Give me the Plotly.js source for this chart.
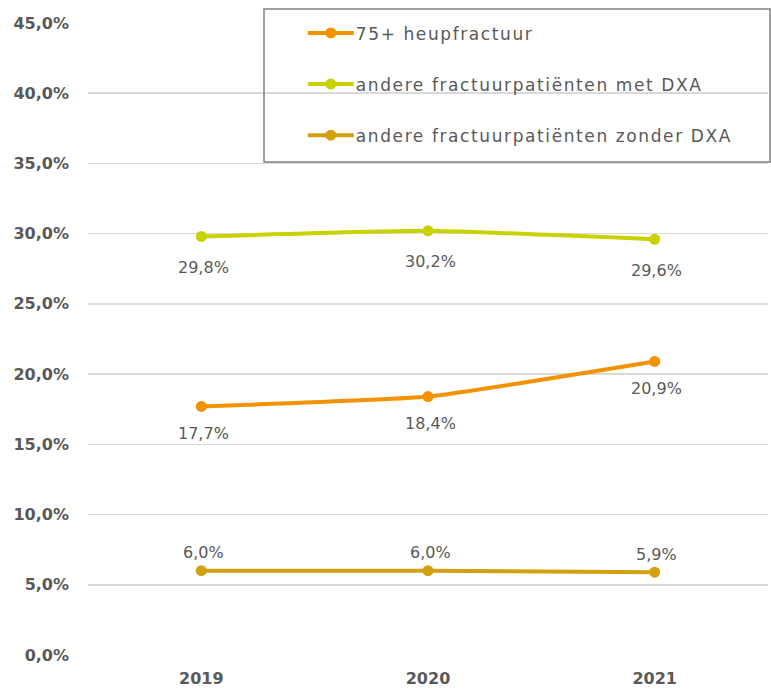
<!DOCTYPE html>
<html>
<head>
<meta charset="utf-8">
<script src="https://cdn.plot.ly/plotly-3.0.1.min.js"></script>
<style>
html,body{margin:0;padding:0;background:#fff;}
#chart{width:771px;height:691px;}
#chart .legendtext{letter-spacing:1.6px;}
</style>
</head>
<body>
<div id="chart"></div>
<script>
const years = ['2019', '2020', '2021'];
const seriesNames = ['75+ heupfractuur', 'andere fractuurpatiënten met DXA', 'andere fractuurpatiënten zonder DXA'];
const heup = [17.7, 18.4, 20.9];
const metDXA = [29.8, 30.2, 29.6];
const zonderDXA = [6.0, 6.0, 5.9];
const yTicks = [0, 5, 10, 15, 20, 25, 30, 35, 40, 45];

const colors = ['#F39200', '#C8D200', '#D4A00F'];
const values = [heup, metDXA, zonderDXA];
const labelShift = [-27, -31, 18];

const fmt = v => v.toFixed(1).replace('.', ',') + '%';

const traces = values.map((v, i) => ({
  x: years, y: v, type: 'scatter', mode: 'lines+markers', name: seriesNames[i],
  legendgroup: 'g' + i,
  line: {color: colors[i], width: 4, shape: 'spline', smoothing: 0.4},
  marker: {color: colors[i], size: 11},
  hoverinfo: 'skip'
}));

const annotations = [];
values.forEach((v, i) => {
  v.forEach((val, j) => {
    annotations.push({
      x: j, y: val, xref: 'x', yref: 'y', text: fmt(val), showarrow: false,
      yshift: labelShift[i], xshift: 2,
      font: {family: 'DejaVu Sans, sans-serif', size: 16, color: '#595959'}
    });
  });
});

const layout = {
  width: 771, height: 691,
  margin: {l: 88, r: 3, t: 23, b: 36},
  paper_bgcolor: '#fff', plot_bgcolor: '#fff',
  showlegend: true,
  legend: {
    x: 0.335, xanchor: 'left', y: 1.012, yanchor: 'top',
    bgcolor: 'rgba(0,0,0,0)', borderwidth: 0,
    traceorder: 'grouped', tracegroupgap: 26,
    font: {family: 'DejaVu Sans, sans-serif', size: 17, color: '#595959'}
  },
  xaxis: {
    type: 'category', range: [-0.5, 2.5], showgrid: false, zeroline: false, showline: false,
    ticks: '', tickfont: {family: 'DejaVu Sans, sans-serif', size: 16, color: '#595959', weight: 'bold'},
    ticklabelstandoff: 12
  },
  yaxis: {
    range: [0, 45], tickvals: yTicks, ticktext: yTicks.map(fmt),
    showgrid: true, gridcolor: '#D9D9D9', gridwidth: 1.5, zeroline: false, showline: false,
    ticks: '', ticklabelstandoff: 18,
    tickfont: {family: 'DejaVu Sans, sans-serif', size: 16, color: '#595959', weight: 'bold'}
  },
  shapes: [{
    type: 'rect', xref: 'paper', yref: 'paper',
    x0: (264 - 88) / 680, x1: (770 - 88) / 680,
    y0: (655 - 162) / 632, y1: (655 - 9) / 632,
    line: {color: '#808080', width: 1.5}, fillcolor: 'rgba(0,0,0,0)', layer: 'above'
  }],
  annotations: annotations
};

Plotly.newPlot('chart', traces, layout, {displayModeBar: false, staticPlot: true}).then(gd => {
  gd.querySelectorAll('.legend .scrollbox').forEach(el => el.removeAttribute('clip-path'));
  gd.querySelectorAll('.legend .legendlines path').forEach(p => p.setAttribute('d', 'M-8,0h46'));
  gd.querySelectorAll('.legend .legendpoints path').forEach(p => {
    const t = p.getAttribute('transform');
    if (t) p.setAttribute('transform', 'translate(15,0)');
  });
});
</script>
</body>
</html>
